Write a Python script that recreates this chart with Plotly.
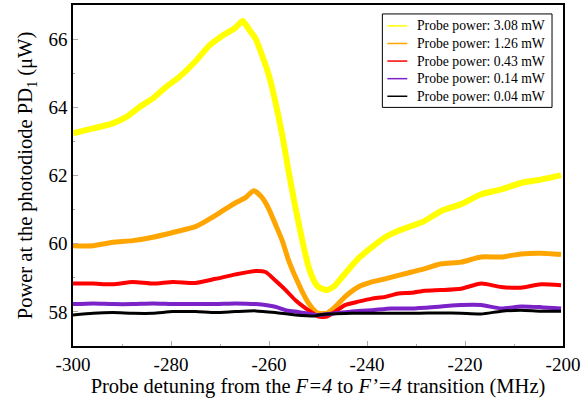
import plotly.graph_objects as go

# Probe detuning (MHz) and photodiode power (uW) for each probe power
det_308 = [-300, -295.9, -291.9, -289.1, -286.4, -283.7, -281, -278.3, -275, -272.2, -269.5,
           -266.8, -265.4, -264.1, -262.7, -261.4, -260, -258.7, -257.3, -256, -254.6, -253.2,
           -251.9, -250.5, -249.9, -248.2, -246.5, -244.5, -241.8, -239, -236.3, -233.6, -230.9,
           -228.2, -224.85, -220.8, -216.7, -212.6, -208.6, -204.5, -200.4]
pow_308 = [63.24, 63.38, 63.53, 63.72, 64.01, 64.26, 64.6, 64.89, 65.35, 65.81, 66.1,
           66.34, 66.53, 66.29, 66.0, 65.52, 64.93, 64.16, 63.19, 62.12, 61.06, 60.09,
           59.31, 58.83, 58.73, 58.64, 58.78, 59.12, 59.56, 59.9, 60.19, 60.38, 60.52,
           60.67, 60.96, 61.16, 61.45, 61.59, 61.78, 61.88, 62.01]

det_126 = [-300, -295.9, -291.9, -287.8, -283.7, -279.6, -275, -272.2, -269.5, -266.8, -264.8,
           -263.1, -261.4, -260, -258.7, -257.3, -256, -254.6, -253.2, -251.9, -250.5, -249.9,
           -248.2, -246.5, -244.5, -241.8, -239, -236.3, -233.6, -230.9, -228.2, -224.85,
           -220.8, -216.7, -212.6, -208.6, -204.5, -200.4]
pow_126 = [59.94, 59.94, 60.04, 60.09, 60.19, 60.33, 60.5, 60.72, 60.96, 61.2, 61.35,
           61.55, 61.35, 61.01, 60.57, 60.09, 59.51, 59.02, 58.59, 58.25, 58.01, 57.96,
           57.96, 58.15, 58.44, 58.73, 58.88, 58.97, 59.07, 59.17, 59.27, 59.41,
           59.46, 59.61, 59.61, 59.7, 59.72, 59.68]

det_043 = [-300, -295.9, -291.9, -287.8, -283.7, -279.6, -275, -270.9, -266.8, -262.7, -260.7,
           -258.7, -256.6, -254.6, -252.5, -250.5, -249.9, -248.2, -246.5, -244.5, -241.8,
           -239, -236.3, -233.6, -230.9, -228.2, -224.85, -220.8, -216.7, -212.6, -208.6,
           -204.5, -200.4]
pow_043 = [58.83, 58.83, 58.81, 58.88, 58.83, 58.88, 58.85, 58.97, 59.1, 59.2, 59.17,
           58.92, 58.64, 58.34, 58.1, 57.91, 57.86, 57.86, 58.01, 58.2, 58.3,
           58.39, 58.44, 58.54, 58.56, 58.62, 58.64, 58.68, 58.83, 58.73, 58.71,
           58.81, 58.78]

det_014 = [-300, -295.9, -291.9, -287.8, -283.7, -279.6, -275, -270.9, -266.8, -262.7, -258.7,
           -256.6, -254.6, -252.5, -250.5, -246.5, -243.1, -239, -235, -230.9, -224.85,
           -220.8, -216.7, -212.6, -208.6, -204.5, -200.4]
pow_014 = [58.23, 58.25, 58.23, 58.23, 58.25, 58.23, 58.23, 58.23, 58.25, 58.23, 58.15,
           58.05, 58.01, 57.96, 57.91, 57.96, 58.01, 58.05, 58.1, 58.1, 58.16,
           58.2, 58.2, 58.1, 58.16, 58.14, 58.1]

det_004 = [-300, -295.9, -291.9, -287.8, -283.7, -279.6, -275, -270.9, -266.8, -262.7, -258.7,
           -254.6, -250.5, -249.9, -243.1, -236.3, -229.6, -224.85, -220.8, -216.7, -212.6,
           -208.6, -204.5, -200.4]
pow_004 = [57.91, 57.96, 57.98, 57.96, 57.96, 58.01, 58.01, 57.98, 58.01, 58.03, 57.98,
           57.91, 57.88, 57.91, 57.96, 57.96, 57.96, 57.97, 57.96, 57.94, 58.02,
           58.05, 58.02, 58.02]

labels = ["Probe power: 3.08 mW", "Probe power: 1.26 mW", "Probe power: 0.43 mW",
          "Probe power: 0.14 mW", "Probe power: 0.04 mW"]
colors = ["#ffff00", "#ffa500", "#ff0000", "#7b22c8", "#000000"]
widths = [6, 5, 4, 4, 3]
detunings = [det_308, det_126, det_043, det_014, det_004]
powers = [pow_308, pow_126, pow_043, pow_014, pow_004]

x_ticks = [-300, -280, -260, -240, -220, -200]
x_ticktext = ["-300", "-280", "-260", "-240", "-220", "-200"]
y_ticks = [58, 60, 62, 64, 66]

W, H = 583, 399
M = dict(l=73, r=19, t=3, b=53)
serif = "Liberation Serif, Times New Roman, serif"

fig = go.Figure()
for name, x, y, color, w in zip(labels, detunings, powers, colors, widths):
    fig.add_trace(go.Scatter(x=x, y=y, mode="lines", name=name, showlegend=False,
                             line=dict(color=color, width=w, shape="spline", smoothing=0.6)))


# compact boxed legend in the upper right, laid out in pixel units
plot_w = W - M["l"] - M["r"]
plot_h = H - M["t"] - M["b"]


def px_x(px):
    return (px - M["l"]) / plot_w


def px_y(py):
    return (H - M["b"] - py) / plot_h


box_l, box_r, box_t, box_b = 383, 553, 12, 106
row_top, row_step = 24, 17.7
shapes = [dict(type="rect", xref="paper", yref="paper",
               x0=px_x(box_l), x1=px_x(box_r), y0=px_y(box_b), y1=px_y(box_t),
               line=dict(color="black", width=1), fillcolor="white", layer="above")]
annotations = []
for i, (name, color) in enumerate(zip(labels, colors)):
    cy = row_top + i * row_step
    shapes.append(dict(type="line", xref="paper", yref="paper",
                       x0=px_x(388), x1=px_x(408), y0=px_y(cy), y1=px_y(cy),
                       line=dict(color=color, width=1.5), layer="above"))
    annotations.append(dict(xref="paper", yref="paper", x=px_x(416), y=px_y(cy),
                            xanchor="left", yanchor="middle", showarrow=False,
                            text=name, font=dict(family=serif, size=13.7, color="black")))

axis_common = dict(
    showline=True, linecolor="black", linewidth=1.5, mirror=True,
    ticks="inside", ticklen=5, tickcolor="#aaaaaa", tickwidth=1,
    showgrid=False, zeroline=False,
    tickfont=dict(family=serif, size=19, color="black"),
)

fig.update_xaxes(range=[-300, -200], tickvals=x_ticks, ticktext=x_ticktext,
                 minor=dict(dtick=10, tick0=-300, ticks="inside", ticklen=2, tickcolor="#aaaaaa"),
                 title=dict(text="Probe detuning from the <i>F=4</i> to <i>F’=4</i> transition (MHz)",
                            font=dict(family=serif, size=20.5, color="black"), standoff=4),
                 **axis_common)
fig.update_yaxes(range=[57, 67], tickvals=y_ticks,
                 minor=dict(dtick=1, tick0=57, ticks="inside", ticklen=2, tickcolor="#aaaaaa"),
                 title=dict(text="Power at the photodiode PD<sub>1</sub> (μW)",
                            font=dict(family=serif, size=20.5, color="black"), standoff=10),
                 **axis_common)

fig.update_layout(
    width=W, height=H,
    margin=M,
    plot_bgcolor="white", paper_bgcolor="white",
    showlegend=False,
    shapes=shapes,
    annotations=annotations,
)

fig.write_html("out.html")
